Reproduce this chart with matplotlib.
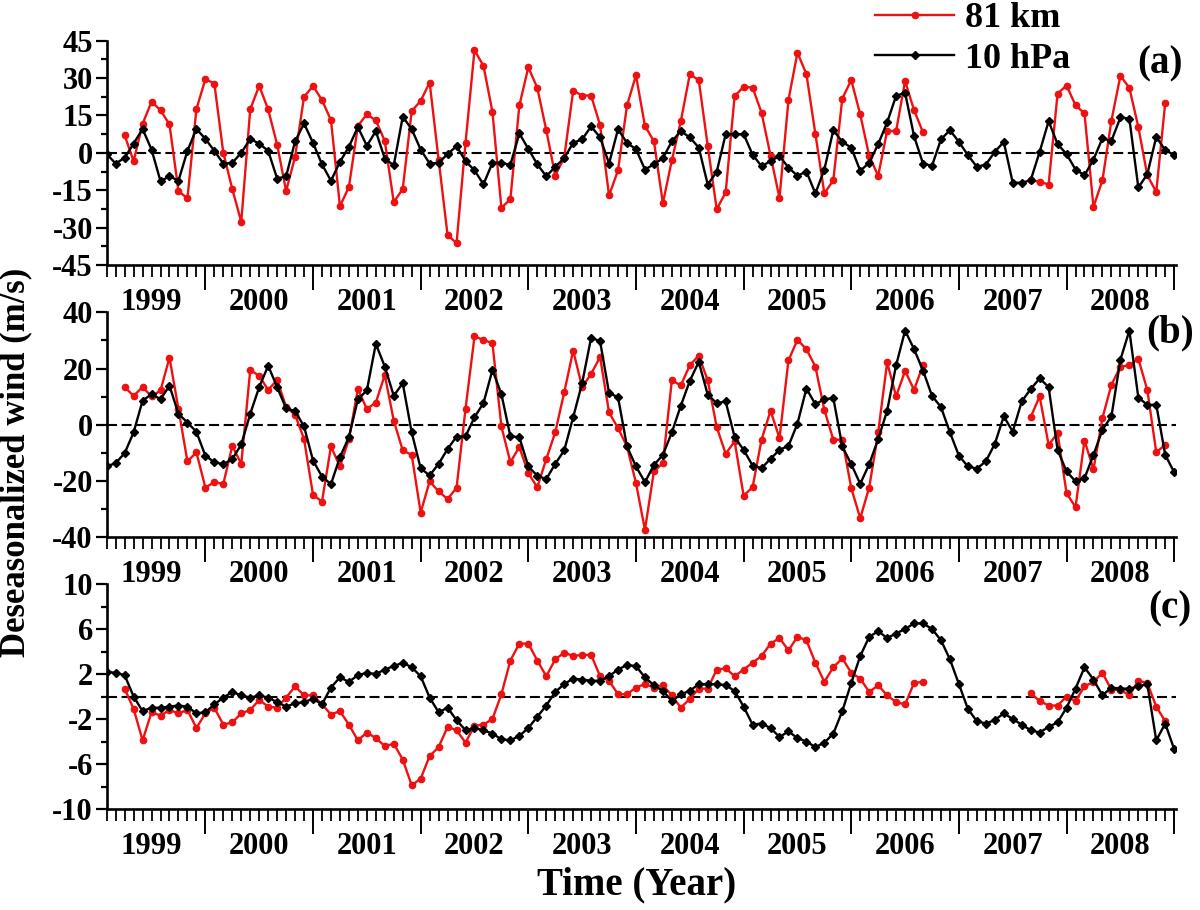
import numpy as np
import matplotlib
matplotlib.use('Agg')
import matplotlib.pyplot as plt
from matplotlib.transforms import blended_transform_factory, ScaledTranslation
from matplotlib.lines import Line2D

nan = np.nan
months = np.arange(1, 121)
years = [str(y) for y in range(1999, 2009)]
year_centers = [12 * k + 6 for k in range(10)]
year_bounds = [12 * k for k in range(1, 11)]

# ---------------- panel (a) ----------------
hpa_a = [-0.5, -4.3, -2, 3.7, 9.6, 1.3, -11.4, -9.4, -11.2, 0.8,
         9.6, 5.6, 0.8, -4.3, -4, 0, 5.6, 3.7, 0.8, -10.3,
         -9.4, 4.6, 11.8, 4, -4.6, -11.2, -3.6, 2.4, 10.4, 2.8,
         8.7, -2.3, -5, 14.5, 9.5, 1.3, -4.3, -4, -0.5, 2.7,
         -3.3, -7, -12.6, -4, -4, -4.8, 7.8, 1.6, -4.6, -9.4,
         -5.6, -2.1, 4, 5.4, 10.6, 6.2, -4.3, 9.5, 4, 1.5,
         -6.7, -4.6, -2.1, 4.6, 8.7, 6.2, 2.1, -12.7, -7.6, 7.5,
         7.5, 7.5, -0.7, -5.4, -3.3, -1.3, -5.9, -9.2, -7.5, -16.3,
         -6.7, 9.1, 4.4, 2.1, -7.2, -4, 3.5, 12.2, 22.9, 24.1,
         6.7, -4.3, -5.2, 5.4, 9.1, 4.4, -0.9, -5.6, -4.7, 0.4,
         4.4, -12, -12, -11, 0.4, 12.7, 3.5, -0.5, -6.7, -9,
         -2.7, 5.8, 4.8, 14.2, 13.7, -13.9, -8.6, 6.4, 1.1, -0.9]
km_a = [nan, nan, 7, -3.3, 11.6, 20.5, 17.1, 11.4, -15.3, -18.3,
        17.5, 29.6, 27.8, 0, -14.5, -27.7, 17.5, 26.9, 17.4, 3.3,
        -15.3, -1.6, 22.5, 26.8, 21.2, 13.1, -21.4, -13.7, 10.8, 15.5,
        13, 4.8, -19.8, -14.5, 16.7, 20.9, 28.2, -2.7, -33, -36.2,
        4, 41.2, 34.9, 16.5, -22.1, -18.6, 19, 34.3, 26.1, 9.1,
        -9.1, -1.9, 24.9, 23, 23, 11.1, -17.1, -7, 19, 31.1,
        10.8, 4.7, -20.2, -3, 12.7, 31.5, 29.2, 2.8, -22.6, -15.9,
        22.8, 26.5, 26.2, 16.1, -1.1, -18.1, 21.2, 40.2, 31.6, 7.6,
        -16.3, -11, 21.8, 29.2, 15.4, -1.2, -9.2, 8.8, 8.8, 28.8,
        17.1, 8.2, nan, nan, nan, nan, nan, nan, nan, nan,
        nan, nan, nan, -11, -11.6, -12.7, 23.8, 27, 19.1, 15.8,
        -21.7, -11, 12.9, 30.9, 26.1, 10.4, -9, -15.7, 20.1, nan]

# ---------------- panel (b) ----------------
hpa_b = [-14.8, -13.6, -10.1, -2.7, 8.6, 10.9, 9.1, 13.9, 3.9, 0.8,
         -2.5, -11, -13.3, -14, -12.2, -7, 3.9, 13.4, 21, 13.4,
         5.8, 4.9, -0.6, -12.7, -18.4, -21.1, -11.5, -4.4, 9.1, 12.2,
         28.8, 20.7, 10.3, 14.8, -2.7, -15.5, -18, -13.9, -8.6, -4.2,
         -4.1, 2.7, 7.7, 19.5, 10.9, -4.1, -4.4, -14.8, -18.1, -19.3,
         -13.9, -9.1, 2.7, 14.8, 31, 29.7, 11.3, 9.8, -7.7, -14.8,
         -20.4, -14.3, -10.7, -2.7, 6.8, 15.6, 22.4, 10.7, 7.7, 8.3,
         -4.4, -8.9, -14.5, -15.4, -12.1, -8.9, -7.5, 0.4, 12.9, 7.3,
         9.1, 9.5, -7.7, -14, -21, -14, -5.1, 5, 21.2, 33.5,
         26.9, 19.3, 10.3, 6.3, -2.7, -11, -14.8, -15.6, -13, -6.8,
         3, -2.4, 8.3, 12.7, 16.5, 13.4, -8.9, -16.6, -20.1, -19,
         -10.7, -1.8, 3, 23.1, 33.5, 9.7, 7.1, 7.1, -10.7, -16.9]
km_b = [nan, nan, 13.4, 10.3, 13.4, 10.1, 12.2, 23.9, 5.6, -13,
        -9.8, -22.3, -20.4, -21, -7.5, -13.9, 19.5, 17.4, 12.4, 16,
        6.3, 3.6, -5.1, -24.9, -27.3, -7.7, -14.8, -5.1, 12.7, 5.6,
        7.9, 17.7, 1.5, -9.1, -10.7, -31.2, -20.1, -23.7, -26.4, -22.4,
        5.7, 31.4, 30.2, 29, -0.6, -13.3, -7.9, -17.2, -22.2, -12.2,
        -2.7, 11.5, 26.4, 13.4, 18.1, 24.1, 4.4, -1.2, -7.7, -20.7,
        -37.3, -16.6, -13.6, 15.8, 14, 21.2, 24.6, 15.8, -0.8, -10.3,
        -5.9, -25.2, -22.2, -5.3, 5, -4.7, 22.9, 30.2, 26.9, 20.7,
        5.3, -5.3, -5.3, -22.5, -33.2, -22.3, -2.7, 22.2, 10.1, 19.2,
        12.4, 21.3, nan, nan, nan, nan, nan, nan, nan, nan,
        nan, nan, nan, 2.7, 10.1, -7.1, -3, -24.3, -29.3, -5.6,
        -15.8, 2.4, 14.2, 20.7, 21.1, 23.5, 12.4, -9.8, -7.1, nan]

# ---------------- panel (c) ----------------
hpa_c = [2.2, 2.1, 1.9, 0, -1.3, -1.0, -1.0, -0.9, -0.8, -0.9,
         -1.5, -1.4, -0.7, -0.1, 0.4, 0.1, -0.1, 0.1, -0.1, -0.5,
         -0.9, -0.6, -0.5, -0.2, -0.7, 0.8, 1.7, 1.3, 1.9, 2.1,
         2.0, 2.4, 2.7, 3.0, 2.6, 1.8, -0.1, -1.4, -1.0, -2.1,
         -3.0, -2.8, -3.0, -3.3, -3.8, -3.9, -3.5, -2.8, -1.8, -0.8,
         0.4, 1.1, 1.6, 1.5, 1.4, 1.4, 1.8, 2.4, 2.8, 2.7,
         1.7, 1.0, 0.5, -0.4, 0.2, 0.5, 1.1, 1.1, 1.1, 1.0,
         0.5, -0.9, -2.5, -2.4, -2.8, -3.6, -3.1, -3.7, -4.0, -4.5,
         -4.1, -3.3, -1.3, 1.2, 3.6, 5.3, 5.8, 5.2, 5.6, 6.0,
         6.5, 6.5, 6.0, 5.0, 3.3, 1.1, -1.1, -2.2, -2.4, -2.1,
         -1.5, -2.0, -2.5, -3.0, -3.2, -2.7, -2.3, -1.0, 0.7, 2.6,
         1.5, 0.1, 0.8, 0.7, 0.7, 0.9, 1.1, -3.9, -2.4, -4.7]
km_c = [nan, nan, 0.7, -1.1, -3.9, -1.4, -1.7, -1.2, -1.5, -1.2,
        -2.8, -1.5, -1.0, -2.5, -2.3, -1.5, -1.2, -0.3, -0.9, -1.0,
        -0.1, 0.9, 0.1, 0.1, -0.7, -1.6, -1.3, -2.5, -3.9, -3.2,
        -3.7, -4.4, -4.2, -5.6, -7.9, -7.3, -5.3, -4.5, -2.7, -3.0,
        -4.1, -2.6, -2.5, -2.0, 0.2, 3.2, 4.7, 4.7, 3.2, 1.8,
        3.3, 3.9, 3.6, 3.7, 3.7, 1.8, 1.4, 0.2, 0.2, 0.8,
        1.1, 0.8, 1.0, 0.1, -1.0, -0.2, 0.7, 0.7, 2.4, 2.5,
        1.8, 2.4, 3.0, 3.6, 4.7, 5.2, 4.1, 5.3, 5.0, 3.0,
        1.3, 2.6, 3.4, 2.1, 1.6, 0.4, 1.0, 0.1, -0.5, -0.7,
        1.2, 1.3, nan, nan, nan, nan, nan, nan, nan, nan,
        nan, nan, nan, 0.3, -0.4, -0.8, -0.8, 0.0, -0.4, 0.9,
        1.3, 2.1, 0.6, 0.6, 0.1, 1.4, 1.2, -0.9, -2.2, nan]

panel_letters = ['(a)', '(b)', '(c)']
y_major = [[-45, -30, -15, 0, 15, 30, 45],
           [-40, -20, 0, 20, 40],
           [-10, -6, -2, 2, 6, 10]]
y_minor = [[-37.5, -22.5, -7.5, 7.5, 22.5, 37.5],
           [-30, -10, 10, 30],
           [-8, -4, 0, 4, 8]]
y_lims = [(-45, 45), (-40, 40), (-10, 10)]
series = [(km_a, hpa_a), (km_b, hpa_b), (km_c, hpa_c)]

plt.rcParams['font.family'] = ['Liberation Serif', 'DejaVu Serif']
plt.rcParams['font.weight'] = 'bold'

W, H = 1200.0, 910.0
fig = plt.figure(figsize=(12, 9.1), dpi=100)
left_px, right_px = 106.7, 1176.0
panel_px = [(40.7, 265.0), (312.3, 537.3), (584.0, 809.0)]
letter_pos = [(1160, 64), (1170, 333), (1170, 609)]

RED = '#ee1111'
for i, (top, bot) in enumerate(panel_px):
    ax = fig.add_axes([left_px / W, 1 - bot / H, (right_px - left_px) / W, (bot - top) / H])
    km, hpa = series[i]
    ax.axhline(0, color='black', lw=1.5, ls=(0, (4.8, 2.2)), zorder=1)
    ax.plot(months, km, color=RED, lw=1.7, marker='o', ms=4.5, mec=RED, mfc=RED,
            zorder=2, label='81 km')
    ax.plot(months, hpa, color='black', lw=1.7, marker='D', ms=3.6, zorder=3,
            label='10 hPa')
    ax.set_xlim(1, 120.2)
    ax.set_ylim(*y_lims[i])
    for s in ['top', 'right']:
        ax.spines[s].set_visible(False)
    for s in ['left', 'bottom']:
        ax.spines[s].set_linewidth(1.9)
    ax.set_yticks(y_major[i])
    ax.set_yticklabels([str(v) for v in y_major[i]])
    ax.set_yticks(y_minor[i], minor=True)
    ax.set_xticks(year_bounds)
    ax.set_xticklabels([])
    ax.set_xticks(months, minor=True)
    ax.tick_params(axis='y', which='major', direction='out', length=8, width=1.6,
                   labelsize=22, pad=2)
    ax.tick_params(axis='y', which='minor', direction='out', length=4.5, width=1.6)
    ax.tick_params(axis='x', which='major', direction='out', length=18, width=1.4)
    ax.tick_params(axis='x', which='minor', direction='out', length=8.5, width=1.3)
    for lab in ax.get_yticklabels():
        lab.set_fontweight('bold')
    trans = blended_transform_factory(ax.transData, ax.transAxes) + \
        ScaledTranslation(0, -37 / 100.0, fig.dpi_scale_trans)
    for yc, yl in zip(year_centers, years):
        ax.text(yc, 0, yl, transform=trans, ha='center', va='center',
                fontsize=22, fontweight='bold')
    lx, ly = letter_pos[i]
    fig.text(lx / W, 1 - ly / H, panel_letters[i], ha='center', va='center',
             fontsize=28, fontweight='bold')

fig.text(637 / W, 1 - 885 / H, 'Time (Year)', ha='center', va='center',
         fontsize=28, fontweight='bold')
fig.text(16 / W, 1 - 462 / H, 'Deseasonalized wind (m/s)', ha='center', va='center',
         rotation=90, fontsize=25, fontweight='bold')

handles = [Line2D([], [], color=RED, lw=1.7, marker='o', ms=4.5, mec=RED, mfc=RED),
           Line2D([], [], color='black', lw=1.7, marker='D', ms=3.6)]
fig.legend(handles, ['81 km', '10 hPa'], loc='center left',
           bbox_to_anchor=(875 / W, 1 - 39 / H), frameon=False,
           handlelength=2.2, handletextpad=0.3, labelspacing=0.2,
           borderpad=0, borderaxespad=0, prop={'weight': 'bold', 'size': 26})

fig.savefig('out.png', dpi=100)
